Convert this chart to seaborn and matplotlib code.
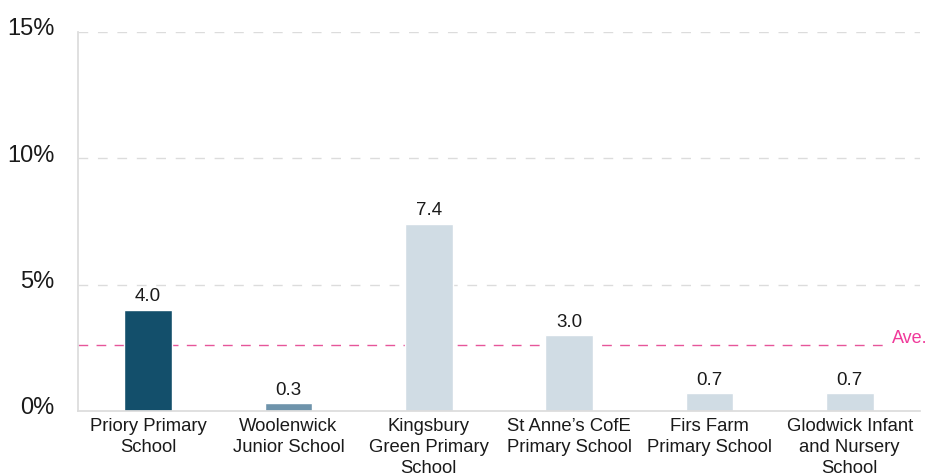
import matplotlib
matplotlib.use("Agg")
import matplotlib.pyplot as plt
import matplotlib.transforms as mtransforms
import seaborn as sns
import pandas as pd
import numpy as np

schools = ["Priory Primary\nSchool", "Woolenwick\nJunior School", "Kingsbury\nGreen Primary\nSchool",
           "St Anne\u2019s CofE\nPrimary School", "Firs Farm\nPrimary School", "Glodwick Infant\nand Nursery\nSchool"]
values = [4.0, 0.3, 7.4, 3.0, 0.7, 0.7]
bar_colors = ["#134f6b", "#6e93ab", "#d0dce4", "#d0dce4", "#d0dce4", "#d0dce4"]
average = 2.6
y_ticks = [0, 5, 10, 15]

df = pd.DataFrame({"School": schools, "Value": values})

sns.set_theme(style="white")
plt.rcParams["font.family"] = ["Liberation Sans", "DejaVu Sans"]

fig = plt.figure(figsize=(9.31, 4.76), dpi=100)
ax = fig.add_axes([0.0838, 0.1366, 0.9042, 0.7962])

sns.barplot(data=df, x="School", y="Value", hue="School", palette=bar_colors,
            legend=False, width=0.34, ax=ax, saturation=1)

for i, v in enumerate(values):
    ax.text(i, v + 0.18, f"{v:.1f}", ha="center", va="bottom", fontsize=13.5, color="#1a1a1a")

# average line stops short of its label
ax.plot([-0.5, 5.24], [average, average], color="#e6569a", lw=1, dashes=(7, 6), zorder=0.5)
ax.text(5.30, average - 0.05, "Ave.", color="#f0399a", fontsize=13, ha="left", va="bottom",
        clip_on=False)

ax.set_ylim(0, 15)
ax.set_xlim(-0.5, 5.5)
ax.set_yticks(y_ticks)
ax.set_yticklabels([f"{t}%" for t in y_ticks], fontsize=17, color="#1a1a1a")
for t in y_ticks[1:]:
    ax.axhline(t, color="#dcdcdc", lw=1, dashes=(7, 7), zorder=0)
ax.tick_params(axis="y", length=7, color="#dcdcdc", pad=10)
shift = mtransforms.ScaledTranslation(0, 5 / 100, fig.dpi_scale_trans)
for lab in ax.get_yticklabels():
    lab.set_transform(lab.get_transform() + shift)

ax.set_xticks(range(len(schools)))
ax.set_xticklabels(schools, fontsize=13.3, color="#1a1a1a", linespacing=1.3)
ax.tick_params(axis="x", which="major", length=0, pad=5)
ax.set_xticks(np.arange(-0.5, 6, 1), minor=True)
ax.tick_params(axis="x", which="minor", length=6, color="#d9d9d9", width=1)

ax.set_xlabel("")
ax.set_ylabel("")
for side in ["top", "right"]:
    ax.spines[side].set_visible(False)
ax.spines["left"].set_color("#dcdcdc")
ax.spines["bottom"].set_color("#dcdcdc")

fig.savefig("out.png", dpi=100)
